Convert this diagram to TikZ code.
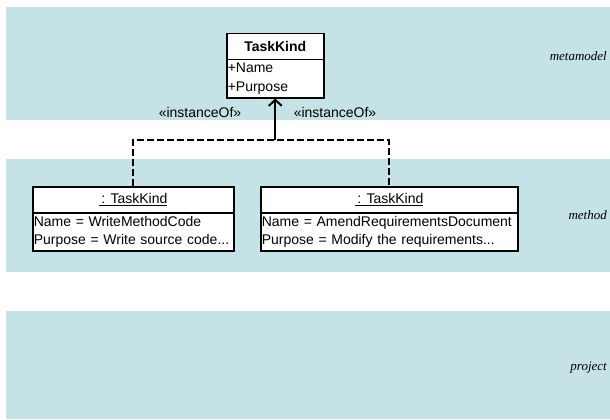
\documentclass[tikz,border=0pt]{standalone}
\usepackage{fontspec}
\setsansfont{Liberation Sans}
\setmainfont{Liberation Serif}
\usetikzlibrary{arrows.meta,positioning}
\definecolor{band}{HTML}{C5E3E7}
\tikzset{
  lane/.style={fill=band,draw=none},
  lanelabel/.style={anchor=east,font=\itshape\fontsize{13}{15}\selectfont,inner sep=0pt},
  head/.style={draw=black,line width=1.5pt,fill=white,inner sep=0pt,anchor=north west,
    font=\sffamily\fontsize{14}{16}\selectfont},
  attrs/.style={draw=black,line width=1.5pt,fill=white,inner sep=1pt,anchor=north west,
    align=left,font=\sffamily\fontsize{14}{18.5}\selectfont},
  stereo/.style={font=\sffamily\fontsize{14}{16}\selectfont,inner sep=0pt},
  inst/.style={line width=2.2pt,dash pattern=on 7pt off 3pt},
  realize/.style={line width=2.2pt,-{Straight Barb[length=6pt,width=13pt,line width=2pt]}}
}
\begin{document}
\begin{tikzpicture}[x=1pt,y=-1pt]
\useasboundingbox (0,0) rectangle (610,420);
% swim lanes
\fill[lane] (6,7) rectangle (610,120);
\fill[lane] (6,159) rectangle (610,272);
\fill[lane] (6,311) rectangle (610,419);
\node[lanelabel] (lmeta) at (607,56) {metamodel};
\node[lanelabel] (lmethod) at (607,215) {method};
\node[lanelabel] (lproject) at (607,368) {project};
% metaclass TaskKind
\node[head,minimum width=97pt,minimum height=26pt] (kindhead) at (226,33) {\bfseries TaskKind};
\node[attrs,minimum width=97pt,minimum height=38pt,text width=95pt] (kindattr) at (226,59) {+Name\\+Purpose};
% instances
\node[head,minimum width=201pt,minimum height=26pt] (ahead) at (32,186) {\underline{\,: TaskKind}};
\node[attrs,minimum width=201pt,minimum height=38pt,text width=199pt] (aattr) at (32,212) {Name = WriteMethodCode\\Purpose = Write source code...};
\node[head,minimum width=257pt,minimum height=26pt] (bhead) at (260,186) {\underline{\,: TaskKind}};
\node[attrs,minimum width=257pt,minimum height=38pt,text width=255pt] (battr) at (260,212) {Name = AmendRequirementsDocument\\Purpose = Modify the requirements...};
% instanceOf dependencies
\coordinate (join) at (kindattr.south |- 0,140);
\draw[inst] (ahead.north) |- (join) -| (bhead.north);
\draw[realize] (join) -- (kindattr.south);
\node[stereo] (sa) at (200,112) {«instanceOf»};
\node[stereo] (sb) at (335,112) {«instanceOf»};
\end{tikzpicture}
\end{document}
